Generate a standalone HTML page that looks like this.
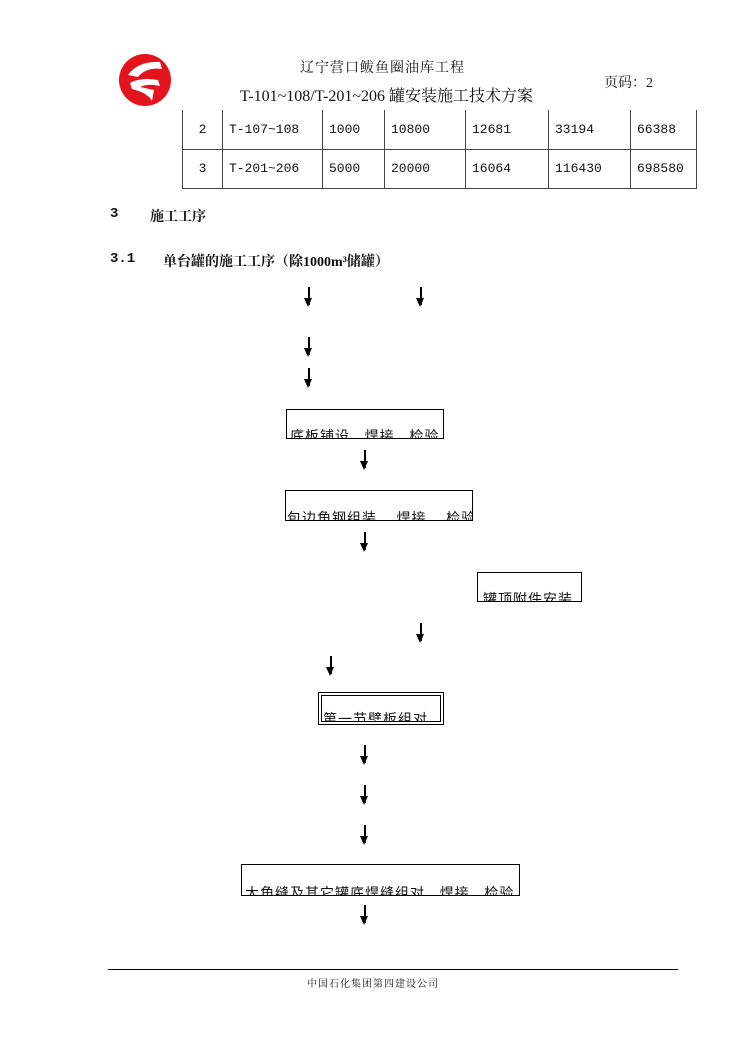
<!DOCTYPE html>
<html><head><meta charset="utf-8">
<style>
body{margin:0;background:#fff;}
#p{position:relative;width:744px;height:1052px;overflow:hidden;font-family:"Liberation Serif","Noto Serif CJK SC",serif;color:#111;}
.a{position:absolute;white-space:nowrap;}
.box{position:absolute;border:1.5px solid #000;overflow:hidden;box-sizing:border-box;}
.box span{position:absolute;left:1px;bottom:-8px;font-family:"Liberation Sans","Noto Sans CJK SC",sans-serif;font-size:14px;white-space:pre;letter-spacing:1px;}
.arr{position:absolute;width:1.5px;background:#000;}
.arr:after{content:"";position:absolute;left:-4px;bottom:-2px;border-left:4.7px solid transparent;border-right:4.7px solid transparent;border-top:9px solid #000;}
td{border:1px solid #444;font-size:13px;padding:0 0 0 6px;height:39px;font-family:"Liberation Mono","Noto Sans CJK SC",monospace;box-sizing:border-box;}
</style></head><body><div id="p">
<svg class="a" style="left:118px;top:53px" width="54" height="54" viewBox="0 0 54 54">
<circle cx="27" cy="27" r="26" fill="#e3141e"/>
<path d="M10 22 Q20 8 42 9 L44 16 Q28 14 20 24 Z" fill="#fff"/>
<path d="M12 30 Q22 24 40 27 L42 33 Q30 30 22 34 L36 37 L34 48 Q30 40 14 36 Z" fill="#fff"/>
</svg>
<div class="a" style="left:300px;top:57px;font-size:14px;letter-spacing:1px;">辽宁营口鲅鱼圈油库工程</div>
<div class="a" style="left:240px;top:83px;font-size:16px;">T-101~108/T-201~206 罐安装施工技术方案</div>
<div class="a" style="left:604px;top:72px;font-size:14px;">页码：2</div>
<table class="a" style="left:182px;top:110px;border-collapse:collapse;width:514px;table-layout:fixed;">
<colgroup><col style="width:40px"><col style="width:100px"><col style="width:62px"><col style="width:81px"><col style="width:83px"><col style="width:82px"><col style="width:66px"></colgroup>
<tr><td style="text-align:center;padding:0;border-top:none">2</td><td style="border-top:none">T-107~108</td><td style="border-top:none">1000</td><td style="border-top:none">10800</td><td style="border-top:none">12681</td><td style="border-top:none">33194</td><td style="border-top:none">66388</td></tr>
<tr><td style="text-align:center;padding:0">3</td><td>T-201~206</td><td>5000</td><td>20000</td><td>16064</td><td>116430</td><td>698580</td></tr>
</table>
<div class="a" style="left:110px;top:206px;font-size:14px;font-weight:bold;font-family:'Liberation Mono',monospace">3</div>
<div class="a" style="left:150px;top:206px;font-size:14px;font-weight:bold;">施工工序</div>
<div class="a" style="left:110px;top:251px;font-size:14px;font-weight:bold;font-family:'Liberation Mono',monospace">3.1</div>
<div class="a" style="left:163px;top:251px;font-size:14px;font-weight:bold;">单台罐的施工工序（除1000m³储罐）</div>

<div class="arr" style="left:308px;top:287px;height:18px"></div>
<div class="arr" style="left:420px;top:287px;height:18px"></div>
<div class="arr" style="left:308px;top:337px;height:18px"></div>
<div class="arr" style="left:308px;top:368px;height:18px"></div>
<div class="box" style="left:286px;top:409px;width:158px;height:30px"><span style="left:3px">底板铺设   焊接   检验</span></div>
<div class="arr" style="left:364px;top:450px;height:18px"></div>
<div class="box" style="left:285px;top:490px;width:188px;height:31px"><span>包边角钢组装    焊接    检验</span></div>
<div class="arr" style="left:364px;top:532px;height:18px"></div>
<div class="box" style="left:477px;top:572px;width:105px;height:30px"><span style="left:5px">罐顶附件安装</span></div>
<div class="arr" style="left:420px;top:623px;height:18px"></div>
<div class="arr" style="left:330px;top:656px;height:18px"></div>
<div class="box" style="left:318px;top:692px;width:126px;height:33px;border:4px double #000"><span>第一节壁板组对</span></div>
<div class="arr" style="left:364px;top:745px;height:18px"></div>
<div class="arr" style="left:364px;top:785px;height:18px"></div>
<div class="arr" style="left:364px;top:825px;height:18px"></div>
<div class="box" style="left:241px;top:864px;width:279px;height:32px"><span style="left:3px">大角缝及其它罐底焊缝组对   焊接   检验</span></div>
<div class="arr" style="left:364px;top:905px;height:18px"></div>

<div class="a" style="left:108px;top:969px;width:570px;height:1px;background:#000"></div>
<div class="a" style="left:307px;top:975px;font-size:10px;letter-spacing:1px;">中国石化集团第四建设公司</div>
</div></body></html>
